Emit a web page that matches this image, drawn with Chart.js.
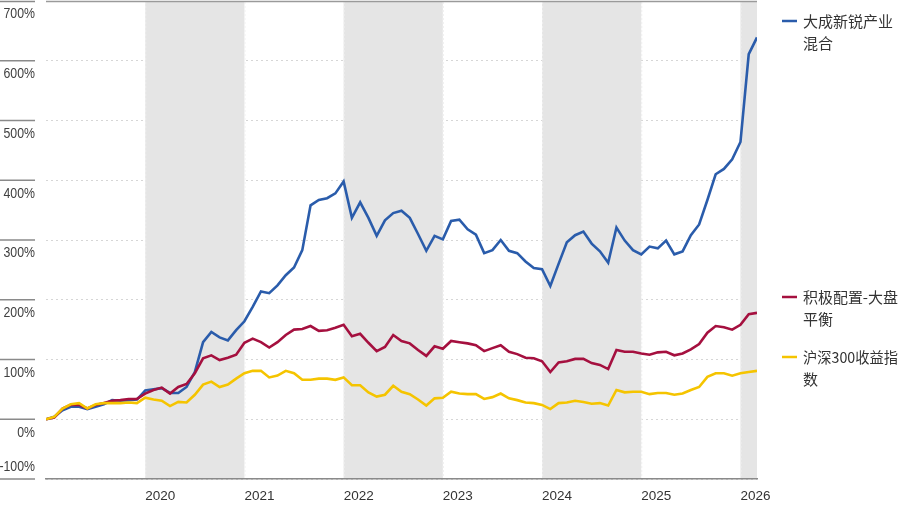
<!DOCTYPE html>
<html>
<head>
<meta charset="utf-8">
<script src="https://cdn.jsdelivr.net/npm/chart.js@4.4.1/dist/chart.umd.min.js"></script>
<style>
  html, body { margin: 0; padding: 0; background: #ffffff; }
  #wrap { width: 904px; height: 508px; position: relative; }
</style>
</head>
<body>
<div id="wrap"><canvas id="c" width="904" height="508"></canvas></div>
<script>
// Month-end observations, Dec 2018 .. Feb 2026
const startYear = 2018, startMonth = 12, monthCount = 87;
const months = [];
for (let k = 0; k < monthCount; k++) {
  const m = (startMonth - 1 + k) % 12 + 1;
  const y = startYear + Math.floor((startMonth - 1 + k) / 12);
  months.push(y + '-' + String(m).padStart(2, '0'));
}

const yearTicks = ['2020', '2021', '2022', '2023', '2024', '2025', '2026'];
const shadedYears = ['2020', '2022', '2024', '2026'];
const yTickLabels = ['-100%', '0%', '100%', '200%', '300%', '400%', '500%', '600%', '700%'];

const seriesNames = ['大成新锐产业混合', '积极配置-大盘平衡', '沪深300收益指数'];
const legendLines = [['大成新锐产业', '混合'], ['积极配置-大盘', '平衡'], ['沪深300收益指', '数']];

const fundReturn = [
  0, 4, 15, 21, 21, 17, 21, 25, 32, 31, 32, 33,
  48, 50, 52, 44, 44, 54, 79, 129, 146, 137, 132, 149,
  164, 188, 214, 211, 224, 241, 254, 283, 358, 367, 370, 378,
  398, 337, 363, 337, 307, 333, 345, 349, 337, 310, 282, 307,
  301, 332, 334, 318, 309, 278, 283, 300, 282, 278, 264, 253,
  251, 223, 260, 296, 308, 314, 294, 281, 262, 321, 299, 283,
  276, 289, 286, 299, 276, 281, 308, 326, 367, 410, 419, 435,
  464, 611, 639
];
const balancedReturn = [
  0, 3, 18, 24, 24, 18, 24, 27, 31, 32, 34, 34,
  43, 49, 53, 43, 54, 59, 77, 102, 107, 99, 103, 108,
  128, 135, 129, 120, 129, 141, 150, 151, 156, 148, 149, 153,
  158, 139, 143, 128, 114, 121, 141, 131, 127, 116, 106, 122,
  118, 131, 129, 127, 124, 114, 119, 124, 113, 109, 103, 102,
  97, 79, 95, 97, 101, 101, 94, 91, 84, 116, 113, 113,
  110, 108, 112, 113, 107, 110, 117, 126, 145, 156, 154, 150,
  158, 176, 178
];
const csi300Return = [
  0, 4, 18, 25, 27, 18, 25, 27, 27, 27, 28, 27,
  36, 33, 31, 22, 29, 28, 41, 58, 63, 54, 58, 68,
  77, 81, 81, 70, 73, 81, 77, 66, 66, 68, 68, 66,
  70, 57, 57, 45, 38, 41, 56, 46, 42, 33, 23, 35,
  36, 46, 43, 42, 42, 34, 37, 43, 35, 32, 28, 27,
  24, 17, 27, 28, 31, 29, 26, 27, 23, 49, 45, 46,
  46, 42, 44, 44, 41, 43, 49, 54, 71, 77, 77, 73,
  77, 79, 81
];

const seriesColors = ['#2a5cab', '#a5103f', '#f5c400'];

function toPoints(arr) { return arr.map((v, i) => ({ x: i, y: v })); }
function yearIndex(y) { return months.indexOf((parseInt(y, 10) - 1) + '-12'); }

const bandsPlugin = {
  id: 'bands',
  beforeDatasetsDraw(chart) {
    const { ctx, chartArea, scales } = chart;
    const xs = scales.x;
    ctx.save();
    shadedYears.forEach(y => {
      const a = xs.getPixelForValue(yearIndex(y));
      const bIdx = Math.min(yearIndex(y) + 12, xs.max);
      const b = Math.min(xs.getPixelForValue(bIdx), chartArea.right);
      ctx.fillStyle = '#e5e5e5';
      ctx.fillRect(a, chartArea.top + 1, Math.max(0, b - a), chartArea.bottom - chartArea.top - 2);
      ctx.strokeStyle = '#efefef';
      ctx.lineWidth = 1;
      ctx.setLineDash([2, 2]);
      [a, b].forEach(px => {
        if (px < chartArea.right - 1) {
          ctx.beginPath();
          ctx.moveTo(px + 0.5, chartArea.top + 1);
          ctx.lineTo(px + 0.5, chartArea.bottom - 1);
          ctx.stroke();
        }
      });
      ctx.setLineDash([]);
    });
    ctx.restore();
  }
};

const decorPlugin = {
  id: 'decor',
  afterDraw(chart) {
    const { ctx, chartArea, scales } = chart;
    const ys = scales.y;
    ctx.save();
    // top border
    ctx.strokeStyle = '#9a9a9a';
    ctx.lineWidth = 1.5;
    ctx.beginPath();
    ctx.moveTo(chartArea.left, chartArea.top + 0.5);
    ctx.lineTo(chartArea.right, chartArea.top + 0.5);
    ctx.stroke();
    // y labels with short rules
    ys.ticks.forEach((t, k) => {
      const py = ys.getPixelForValue(t.value);
      const rule = Math.min(Math.max(py, chartArea.top + 0.5), chartArea.bottom);
      ctx.strokeStyle = '#8a8a8a';
      ctx.lineWidth = 1.5;
      ctx.beginPath();
      ctx.moveTo(0, rule);
      ctx.lineTo(35, rule);
      ctx.stroke();
      const label = yTickLabels[k];
      const ly = (k === 0) ? py - 12 : py + 13.5;
      ctx.save();
      ctx.translate(35, ly);
      ctx.scale(0.88, 1);
      ctx.font = '14px "Liberation Sans", Arial, sans-serif';
      ctx.fillStyle = '#404040';
      ctx.textAlign = 'right';
      ctx.textBaseline = 'middle';
      ctx.fillText(label, 0, 0);
      ctx.restore();
    });
    // legend
    const legendY = [21, 297, 357];
    ctx.font = '15px "Noto Sans CJK SC", sans-serif';
    ctx.textAlign = 'left';
    ctx.textBaseline = 'middle';
    ctx.fillStyle = '#333333';
    legendLines.forEach((lines, k) => {
      const y0 = legendY[k];
      ctx.strokeStyle = seriesColors[k];
      ctx.lineWidth = 2.5;
      ctx.beginPath();
      ctx.moveTo(782, y0);
      ctx.lineTo(797, y0);
      ctx.stroke();
      lines.forEach((s, j) => ctx.fillText(s, 803, y0 + j * 22, 95));
    });
    ctx.restore();
  }
};

const datasets = [fundReturn, balancedReturn, csi300Return].map((arr, k) => ({
  label: seriesNames[k],
  data: toPoints(arr),
  borderColor: seriesColors[k],
  backgroundColor: seriesColors[k],
  borderWidth: 2.6,
  pointRadius: 0,
  tension: 0,
  order: 3 - k
}));

new Chart(document.getElementById('c'), {
  type: 'line',
  data: { datasets },
  options: {
    responsive: false,
    animation: false,
    devicePixelRatio: 1,
    layout: { padding: { top: 1, right: 147, left: 0, bottom: 0 } },
    plugins: { legend: { display: false }, tooltip: { enabled: false } },
    scales: {
      x: {
        type: 'linear',
        min: 0,
        max: months.length - 1,
        afterBuildTicks(scale) {
          scale.ticks = yearTicks.map(y => ({ value: yearIndex(y) }));
        },
        afterFit(scale) { scale.height = 29; },
        grid: { display: false, drawTicks: false },
        border: { display: true, color: '#8a8a8a', width: 1.5 },
        ticks: {
          align: 'start',
          padding: 9,
          color: '#333333',
          font: { family: '"Liberation Sans", Arial, sans-serif', size: 13.5 },
          callback(v) {
            const idx = months[v] ? yearTicks.indexOf(String(parseInt(months[v].slice(0, 4), 10) + 1)) : -1;
            return idx >= 0 ? yearTicks[idx] : '';
          }
        }
      },
      y: {
        min: -100,
        max: 700,
        ticks: { stepSize: 100, display: false },
        afterFit(scale) { scale.width = 46; },
        grid: { color: '#d6d6d6', lineWidth: 1, drawTicks: false, tickLength: 0 },
        border: { display: false, dash: [2, 3] }
      }
    }
  },
  plugins: [bandsPlugin, decorPlugin]
});
</script>
</body>
</html>
